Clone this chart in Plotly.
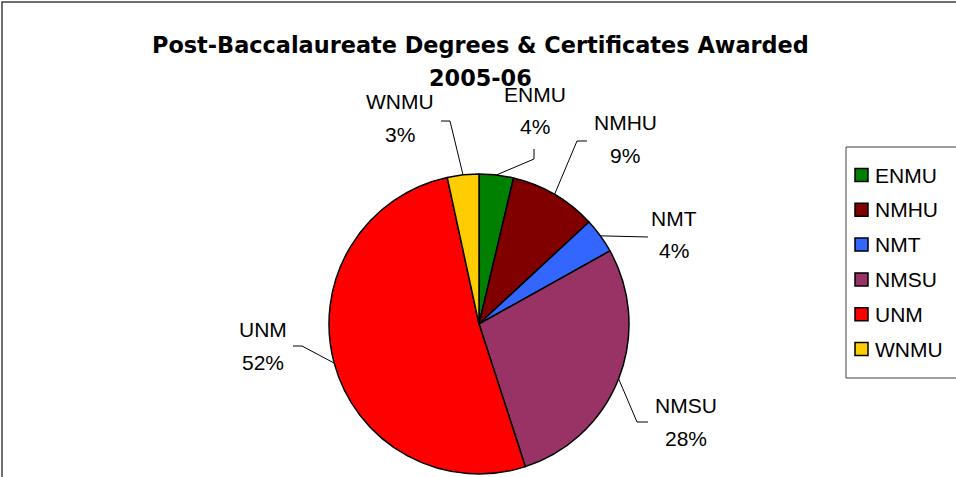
import math
import plotly.graph_objects as go

# ---- data ----
schools = ["ENMU", "NMHU", "NMT", "NMSU", "UNM", "WNMU"]
shares = [3.7, 9.4, 3.8, 28.1, 51.6, 3.4]
colors = ["#008000", "#800000", "#3366FF", "#993366", "#FF0000", "#FFCC00"]
title_lines = ["Post-Baccalaureate Degrees & Certificates Awarded", "2005-06"]

# ---- layout (pixel) settings ----
W, H = 956, 477
CX, CY, R = 479, 324, 150
FONT = "Arial, Liberation Sans, sans-serif"
TFONT = "DejaVu Sans, Arial, sans-serif"
LBL = 21

# label centre positions (x, name y, pct y) and leader elbows
label_pos = {
    "WNMU": (400, 102, 135),
    "ENMU": (535, 94, 127),
    "NMHU": (625, 122, 155),
    "NMT": (674, 218, 251),
    "NMSU": (686, 405, 438),
    "UNM": (263, 329, 362),
}
leader_pts = {
    "WNMU": [(450, 121), (441, 121)],
    "ENMU": [(534, 159), (534, 149)],
    "NMHU": [(577, 141), (587, 141)],
    "NMT": [(648, 237)],
    "NMSU": [(637, 422), (648, 422)],
    "UNM": [(302, 346), (293, 346)],
}


def px(x):
    return x / W


def py(y):
    return 1 - y / H


def text(x, y, s, family=FONT, size=LBL, xanchor="center"):
    return dict(x=px(x), y=py(y), xref="paper", yref="paper", text=s, showarrow=False,
                xanchor=xanchor, yanchor="middle",
                font=dict(family=family, size=size, color="black"))


fig = go.Figure()
fig.add_trace(go.Pie(
    labels=schools, values=shares, sort=False, direction="clockwise", rotation=0,
    marker=dict(colors=colors, line=dict(color="black", width=1.5)),
    textinfo="none", showlegend=False, hoverinfo="label+percent",
    domain=dict(x=[px(CX - R), px(CX + R)], y=[py(CY + R), py(CY - R)]),
))

annotations = []
shapes = []
total = sum(shares)
cum = 0.0
for name, v in zip(schools, shares):
    mid = (cum + v / 2) / total * 2 * math.pi
    cum += v
    ex, ey = CX + R * math.sin(mid), CY - R * math.cos(mid)
    pct = round(v / total * 100)
    lx, ny, pyy = label_pos[name]
    annotations.append(text(lx, ny, name))
    annotations.append(text(lx, pyy, f"{pct}%"))
    pts = [(ex, ey)] + leader_pts[name]
    path = "M " + " L ".join(f"{px(a)},{py(b)}" for a, b in pts)
    shapes.append(dict(type="path", path=path, xref="paper", yref="paper",
                       line=dict(color="black", width=1)))

# title
annotations.append(text(481, 45, f"<b>{title_lines[0]}</b>", family=TFONT, size=22.4))
annotations.append(text(481, 78, f"<b>{title_lines[1]}</b>", family=TFONT, size=22.4))

# outer chart frame
shapes.append(dict(type="rect", xref="paper", yref="paper", x0=px(2), x1=px(975), y0=py(495), y1=py(2),
                   line=dict(color="#404040", width=1.5), layer="below"))

# legend box and entries
LX0, LY0, LY1 = 846, 147, 378
shapes.append(dict(type="rect", xref="paper", yref="paper", x0=px(LX0), x1=px(975), y0=py(LY1), y1=py(LY0),
                   line=dict(color="#404040", width=1), fillcolor="white", layer="below"))
for i, (name, c) in enumerate(zip(schools, colors)):
    yc = 175 + i * 34.8
    shapes.append(dict(type="rect", xref="paper", yref="paper", x0=px(855), x1=px(868),
                       y0=py(yc + 6.5), y1=py(yc - 6.5), fillcolor=c, line=dict(color="black", width=1.5)))
    annotations.append(text(873, yc, name, xanchor="left"))

fig.update_layout(
    width=W, height=H, margin=dict(l=0, r=0, t=0, b=0),
    paper_bgcolor="white", plot_bgcolor="white",
    annotations=annotations, shapes=shapes,
)

fig.write_html("out.html", config={"displayModeBar": False},
               post_script="document.body.style.margin='0';document.body.style.overflow='hidden';")
